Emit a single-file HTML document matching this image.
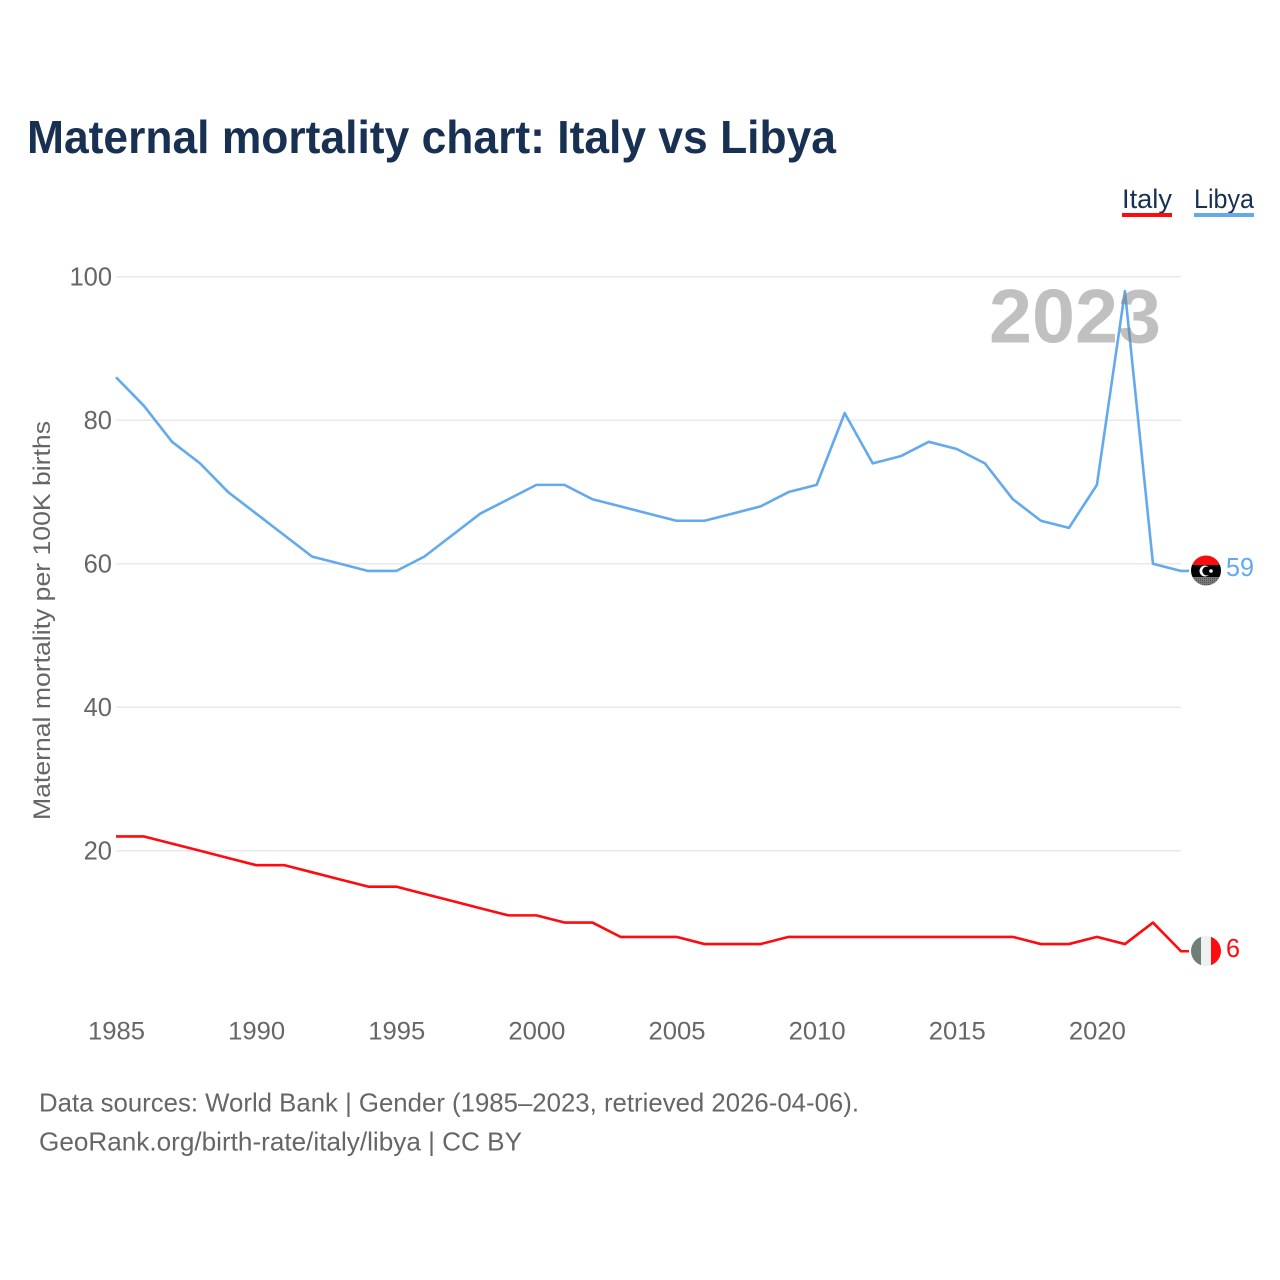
<!DOCTYPE html>
<html lang="en">
<head>
<meta charset="utf-8">
<title>Maternal mortality chart: Italy vs Libya</title>
<style>
html,body{margin:0;padding:0;background:#fff;width:1280px;height:1280px;overflow:hidden}
svg{display:block}
text{font-family:"Liberation Sans",sans-serif}
</style>
</head>
<body>
<svg id="chart" xmlns="http://www.w3.org/2000/svg" width="1280" height="1280" viewBox="0 0 1280 1280">
  <defs>
    <clipPath id="flag-clip-libya"><circle cx="1206" cy="570.5" r="15"></circle></clipPath>
    <clipPath id="flag-clip-italy"><circle cx="1206" cy="951" r="15"></circle></clipPath>
    <pattern id="flag-dither" width="2" height="2" patternUnits="userSpaceOnUse">
      <rect width="2" height="2" fill="#777a78"></rect>
      <rect width="1" height="1" fill="#4f5250"></rect>
    </pattern>
  </defs>
  <text x="27" y="153" font-size="46" font-weight="700" fill="#183153" textLength="809" lengthAdjust="spacingAndGlyphs">Maternal mortality chart: Italy vs Libya</text>
  <g>
    <g>
      <text x="1122" y="208" font-size="27" fill="#183153" textLength="50" lengthAdjust="spacingAndGlyphs">Italy</text>
      <rect x="1122" y="213" width="50" height="4" fill="#ff0a0f"></rect>
    </g>
    <g>
      <text x="1194" y="208" font-size="27" fill="#183153" textLength="60" lengthAdjust="spacingAndGlyphs">Libya</text>
      <rect x="1194" y="213" width="60" height="4" fill="#63a9ee"></rect>
    </g>
  </g>
  <g id="grid"></g>
  <g id="y-ticks"></g>
  <g id="x-ticks"></g>
  <text transform="translate(50,620.5) rotate(-90)" text-anchor="middle" font-size="24.5" fill="#666" textLength="399" lengthAdjust="spacingAndGlyphs">Maternal mortality per 100K births</text>
  <g id="series"></g>
  <text x="989" y="342.5" font-size="76" font-weight="700" fill="#7f827f" fill-opacity="0.5" textLength="172" lengthAdjust="spacingAndGlyphs">2023</text>
  <g clip-path="url(#flag-clip-libya)">
    <rect x="1190" y="555" width="32" height="10.5" fill="#fb0d0f"></rect>
    <rect x="1190" y="565" width="32" height="12" fill="#000"></rect>
    <rect x="1190" y="577" width="32" height="10" fill="url(#flag-dither)"></rect>
    <circle cx="1205" cy="571" r="5.5" fill="#fff"></circle>
    <circle cx="1206.8" cy="571" r="4.5" fill="#000"></circle>
    <circle cx="1211" cy="571" r="1.8" fill="#fff"></circle>
  </g>
  <g clip-path="url(#flag-clip-italy)">
    <rect x="1190" y="935" width="11" height="32" fill="#6f7f78"></rect>
    <rect x="1201" y="935" width="10" height="32" fill="#f0f0f0"></rect>
    <rect x="1211" y="935" width="11" height="32" fill="#ff0a0f"></rect>
  </g>
  <text id="label-libya" x="1226" y="576" font-size="26" fill="#63a9ee" textLength="28" lengthAdjust="spacingAndGlyphs"></text>
  <text id="label-italy" x="1226" y="957" font-size="26" fill="#ff0a0f" textLength="14" lengthAdjust="spacingAndGlyphs"></text>
  <text x="39" y="1111.5" font-size="26" fill="#666" textLength="820" lengthAdjust="spacingAndGlyphs">Data sources: World Bank | Gender (1985–2023, retrieved 2026-04-06).</text>
  <text x="39" y="1150.5" font-size="26" fill="#666" textLength="483" lengthAdjust="spacingAndGlyphs">GeoRank.org/birth-rate/italy/libya | CC BY</text>
</svg>
<script>
const years = [1985,1986,1987,1988,1989,1990,1991,1992,1993,1994,1995,1996,1997,1998,1999,2000,2001,2002,2003,2004,2005,2006,2007,2008,2009,2010,2011,2012,2013,2014,2015,2016,2017,2018,2019,2020,2021,2022,2023];
const libyaValues = [86,82,77,74,70,67,64,61,60,59,59,61,64,67,69,71,71,69,68,67,66,66,67,68,70,71,81,74,75,77,76,74,69,66,65,71,98,60,59];
const italyValues = [22,22,21,20,19,18,18,17,16,15,15,14,13,12,11,11,10,10,8,8,8,7,7,7,8,8,8,8,8,8,8,8,8,7,7,8,7,10,6];
const yTickValues = [100,80,60,40,20];
const xTickValues = [1985,1990,1995,2000,2005,2010,2015,2020];

const NS = 'http://www.w3.org/2000/svg';
function xScale(year){ return 116 + (year - 1985) * (1181 - 116) / 38; }
function yScale(value){ return 994.3 - value * 7.175; }
function make(tag, attrs, parent){
  const el = document.createElementNS(NS, tag);
  Object.keys(attrs).forEach(function(k){ el.setAttribute(k, attrs[k]); });
  parent.appendChild(el);
  return el;
}

const gridGroup = document.getElementById('grid');
const yGroup = document.getElementById('y-ticks');
yTickValues.forEach(function(v){
  const line = make('line', {x1:116, x2:1181, y1:yScale(v), y2:yScale(v), stroke:'#e9e9e9', 'stroke-width':1.5}, gridGroup);
  
  
  const label = make('text', {x:112, y:yScale(v) + 8.5, 'text-anchor':'end', 'font-size':25.5, fill:'#666'}, yGroup);
  
  
  label.textContent = String(v);
});

const xGroup = document.getElementById('x-ticks');
xTickValues.forEach(function(v){
  const label = make('text', {x:xScale(v) + 0.5, y:1039.5, 'text-anchor':'middle', 'font-size':25, fill:'#666', textLength:57, lengthAdjust:'spacingAndGlyphs'}, xGroup);
  
  
  label.textContent = String(v);
});

const seriesGroup = document.getElementById('series');
function drawSeries(values, color, name){
  const pts = values.map(function(v, i){ return xScale(years[i]).toFixed(2) + ',' + yScale(v).toFixed(2); });
  const lastY = yScale(values[values.length - 1]).toFixed(2);
  pts.push('1189,' + lastY);
  const line = make('polyline', {points:pts.join(' '), fill:'none', stroke:color, 'stroke-width':2.6, 'stroke-linejoin':'round'}, seriesGroup);
  
  
}
drawSeries(libyaValues, '#63a9ee', 'line-libya');
drawSeries(italyValues, '#ff0a0f', 'line-italy');

document.getElementById('label-libya').textContent = String(libyaValues[libyaValues.length - 1]);
document.getElementById('label-italy').textContent = String(italyValues[italyValues.length - 1]);
</script>
</body>
</html>
